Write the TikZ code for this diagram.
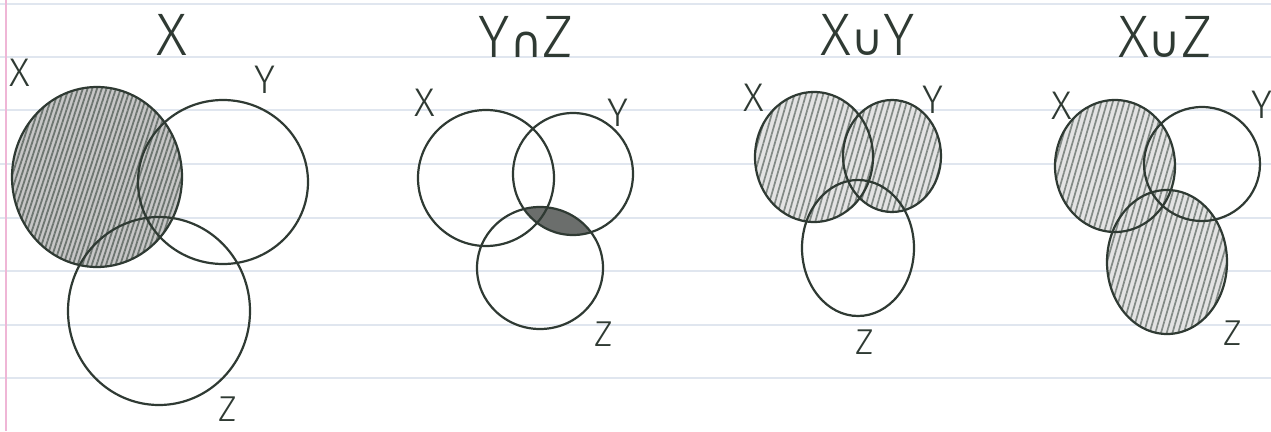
\documentclass[tikz,border=0pt]{standalone}
\usepackage{fontspec}
\setmainfont{Fira Sans Light}
\newfontfamily\symfont{DejaVu Sans}
\usetikzlibrary{patterns.meta}
\definecolor{ink}{HTML}{2F3A33}
\definecolor{rule}{HTML}{E0E6EF}
\definecolor{margin}{HTML}{EFB6D6}
\tikzset{
  ring/.style={draw=ink, line width=2.2pt},
  title/.style={text=ink, font=\fontsize{60}{60}\selectfont, inner sep=0pt},
  lbl/.style={text=ink, font=\fontsize{40}{40}\selectfont, inner sep=0pt},
  zlbl/.style={text=ink, font=\fontsize{36}{36}\selectfont, inner sep=0pt},
  heavyshade/.style={preaction={fill=gray!45}, pattern={Lines[angle=72,distance=4.5pt,line width=1.8pt]}, pattern color=ink!70},
  lightshade/.style={preaction={fill=gray!22}, pattern={Lines[angle=74,distance=5.5pt,line width=1.7pt]}, pattern color=ink!60},
  darkshade/.style={fill=gray!75!ink},
}
\newcommand{\capsym}{{\symfont\fontsize{44}{44}\selectfont ∩}}
\newcommand{\cupsym}{{\symfont\fontsize{44}{44}\selectfont ∪}}
\begin{document}
\begin{tikzpicture}[x=1pt,y=-1pt]
\useasboundingbox (0,0) rectangle (1271,431);
\fill[white] (0,0) rectangle (1271,431);
% paper
\foreach \yy in {4,57,110,164,218,271,325,378}
  \draw[rule, line width=1.2pt] (0,\yy) -- (1271,\yy);
\draw[margin, line width=1.4pt] (6,0) -- (6,431);

% ---------- panel 1 : X ----------
\fill[heavyshade] (97,177) ellipse [x radius=85pt, y radius=90pt];
\draw[ring] (97,177) ellipse [x radius=85pt, y radius=90pt];
\draw[ring] (223,182) ellipse [x radius=85pt, y radius=82pt];
\draw[ring] (159,311) ellipse [x radius=91pt, y radius=94pt];
\node[title] (t1) at (172,35) {X};
\node[lbl] (x1) at (20,73) {X};
\node[lbl] (y1) at (265,80) {Y};
\node[zlbl] (z1) at (228,409) {Z};

% ---------- panel 2 : Y n Z ----------
\begin{scope}
  \clip (573,174) ellipse [x radius=60pt, y radius=61pt];
  \fill[darkshade] (540,268) ellipse [x radius=63pt, y radius=61pt];
\end{scope}
\draw[ring] (486,178) ellipse [x radius=68pt, y radius=68pt];
\draw[ring] (573,174) ellipse [x radius=60pt, y radius=61pt];
\draw[ring] (540,268) ellipse [x radius=63pt, y radius=61pt];
\node[title] (t2) at (526,37) {Y\capsym Z};
\node[lbl] (x2) at (425,103) {X};
\node[lbl] (y2) at (618,113) {Y};
\node[zlbl] (z2) at (604,334) {Z};

% ---------- panel 3 : X u Y ----------
\fill[lightshade] (814,157) ellipse [x radius=59pt, y radius=65pt];
\fill[lightshade] (892,156) ellipse [x radius=49pt, y radius=56pt];
\draw[ring] (814,157) ellipse [x radius=59pt, y radius=65pt];
\draw[ring] (892,156) ellipse [x radius=49pt, y radius=56pt];
\draw[ring] (858,248) ellipse [x radius=56pt, y radius=68pt];
\node[title] (t3) at (868,35) {X\cupsym Y};
\node[lbl] (x3) at (754,98) {X};
\node[lbl] (y3) at (933,100) {Y};
\node[zlbl] (z3) at (865,342) {Z};

% ---------- panel 4 : X u Z ----------
\fill[lightshade] (1115,166) ellipse [x radius=60pt, y radius=66pt];
\fill[lightshade] (1167,262) ellipse [x radius=60pt, y radius=72pt];
\draw[ring] (1115,166) ellipse [x radius=60pt, y radius=66pt];
\draw[ring] (1202,164) ellipse [x radius=58pt, y radius=57pt];
\draw[ring] (1167,262) ellipse [x radius=60pt, y radius=72pt];
\node[title] (t4) at (1165,37) {X\cupsym Z};
\node[lbl] (x4) at (1062,106) {X};
\node[lbl] (y4) at (1262,105) {Y};
\node[zlbl] (z4) at (1233,333) {Z};
\end{tikzpicture}
\end{document}
